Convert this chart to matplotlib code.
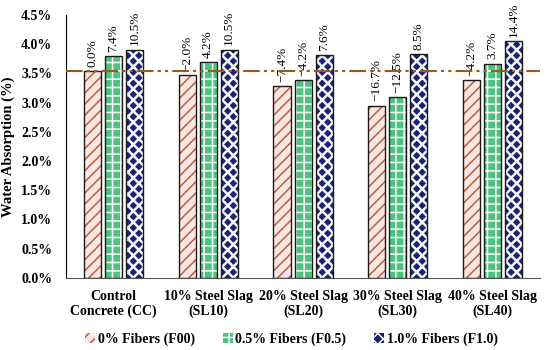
import numpy as np
import matplotlib as mpl
import matplotlib.pyplot as plt
from matplotlib.patches import Patch

plt.rcParams['font.family'] = ['Liberation Serif', 'DejaVu Serif']
plt.rcParams['hatch.linewidth'] = 1.1

categories = ['Control\nConcrete (CC)', '10% Steel Slag\n(SL10)', '20% Steel Slag\n(SL20)',
              '30% Steel Slag\n(SL30)', '40% Steel Slag\n(SL40)']
series = ['0% Fibers (F00)', '0.5% Fibers (F0.5)', '1.0% Fibers (F1.0)']
f00 = [3.54, 3.47, 3.28, 2.95, 3.39]
f05 = [3.80, 3.69, 3.39, 3.10, 3.67]
f10 = [3.91, 3.91, 3.81, 3.84, 4.05]
lab00 = ['0.0%', '\u22122.0%', '\u22127.4%', '\u221216.7%', '\u22124.2%']
lab05 = ['7.4%', '4.2%', '\u22124.2%', '\u221212.5%', '3.7%']
lab10 = ['10.5%', '10.5%', '7.6%', '8.5%', '14.4%']
reference = 3.54

faces = ['#fde6e3', '#4cc47f', '#1c2270']
hatch_cols = ['#b5603a', '#ffffff', '#f4f8fd']
hatches = ['///', '++', 'xxx']
hatch_lw = [1.1, 1.1, 1.8]

fig = plt.figure(figsize=(5.5, 3.5), dpi=100)
ax = fig.add_axes([0.12, 0.206, 0.862, 0.751])

x = np.arange(len(categories))
w = 0.18
pitch = 0.222
for i, (vals, labs) in enumerate([(f00, lab00), (f05, lab05), (f10, lab10)]):
    pos = x + (i - 1) * pitch
    with mpl.rc_context({'hatch.linewidth': hatch_lw[i]}):
        ax.bar(pos, vals, w, color=faces[i], edgecolor=hatch_cols[i], hatch=hatches[i], linewidth=0, zorder=2)
    ax.bar(pos, vals, w, color='none', edgecolor='#1a1a1a', linewidth=1.0, zorder=3)
    for p, v, t in zip(pos, vals, labs):
        ax.text(p, v + 0.07, t, rotation=90, ha='center', va='bottom', fontsize=9.5, zorder=4)

ax.axhline(reference, color='#9a5a1c', lw=1.5, dashes=(8, 2, 1.5, 2, 1.5, 2), zorder=5)

ax.set_xlim(-0.5, 4.5)
ax.set_ylim(0, 4.5)
ax.set_yticks(np.arange(0, 4.51, 0.5))
ax.set_yticklabels(['%.1f%%' % t for t in np.arange(0, 4.51, 0.5)], fontsize=10, fontweight='bold')
ax.set_xticks(x)
ax.set_xticklabels(categories, fontsize=10, fontweight='bold', linespacing=1.1)
ax.tick_params(axis='x', length=0, pad=9)
ax.tick_params(axis='y', length=0, pad=10)
ax.spines['top'].set_visible(False)
ax.spines['right'].set_visible(False)
ax.spines['bottom'].set_color('#555555')
ax.set_ylabel('Water Absorption (%)', fontsize=10.5, fontweight='bold', labelpad=4)

handles = []
for i in range(3):
    with mpl.rc_context({'hatch.linewidth': hatch_lw[i]}):
        handles.append(Patch(facecolor=faces[i], edgecolor=hatch_cols[i], hatch=hatches[i], label=series[i]))
leg = fig.legend(handles=handles, loc='lower center', bbox_to_anchor=(0.53, -0.025), ncol=3,
                 frameon=False, handlelength=0.7, handleheight=0.7, handletextpad=0.2,
                 columnspacing=2.0, prop={'weight': 'bold', 'size': 10})
for h in leg.legend_handles:
    h.set_linewidth(0)

fig.savefig('out.png', dpi=100)
